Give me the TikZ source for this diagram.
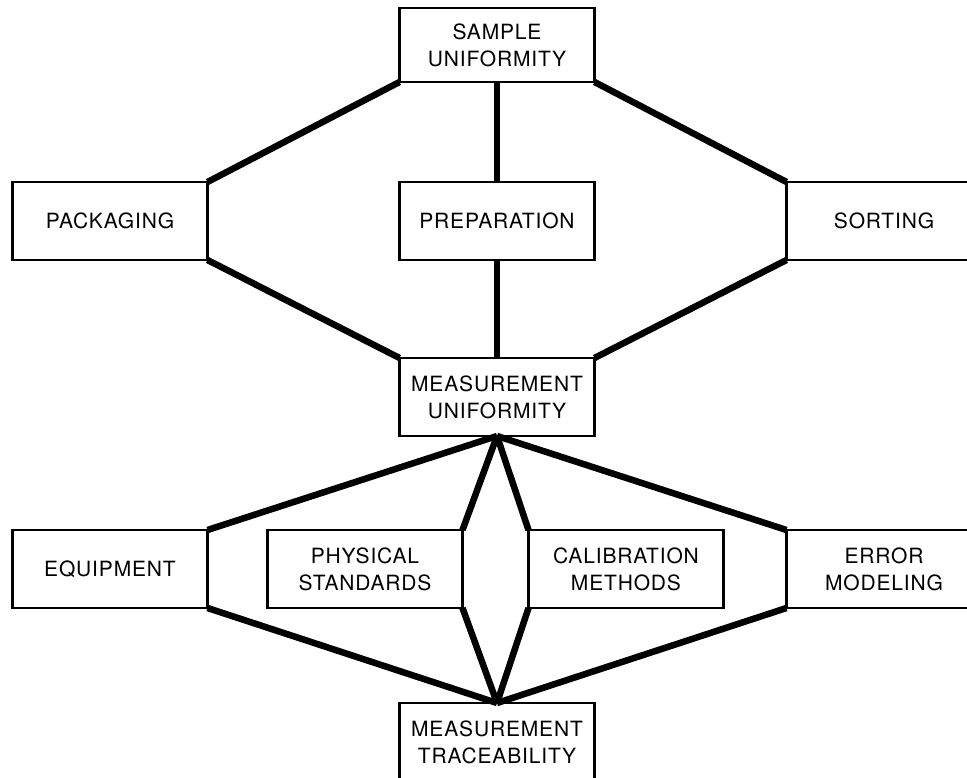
\documentclass[tikz,border=0pt]{standalone}
\usepackage{fontspec}
\setmainfont[LetterSpace=4]{TeX Gyre Heros}
\usetikzlibrary{positioning}

\begin{document}
\begin{tikzpicture}
[x=1pt,y=1pt,
 every node/.style={draw=black,line width=2.6pt,minimum width=195pt,minimum height=78pt,
   inner sep=0pt,outer sep=0pt,align=center,font=\fontsize{21}{27}\selectfont},
 top/.style={minimum height=74pt},
 link/.style={line width=6.5pt}]
\useasboundingbox (0,0) rectangle (967,-778);
\clip (0,0) rectangle (967,-778);
\node[top] (su)   at (497,-45)                               {SAMPLE\\UNIFORMITY};
\node      (prep) [on grid,below=176pt of su]                {PREPARATION};
\node      (pack) [on grid,left=387pt of prep]               {PACKAGING};
\node      (sort) [on grid,right=387pt of prep]              {SORTING};
\node      (mu)   [on grid,below=176pt of prep]              {MEASUREMENT\\UNIFORMITY};
\node      (equ)  [on grid,below  left=172pt and 387pt of mu] {EQUIPMENT};
\node      (phys) [on grid,below  left=172pt and 132pt of mu] {PHYSICAL\\STANDARDS};
\node      (cal)  [on grid,below right=172pt and 129pt of mu] {CALIBRATION\\METHODS};
\node      (err)  [on grid,below right=172pt and 387pt of mu] {ERROR\\MODELING};
\node      (mt)   [on grid,below=345pt of mu]                {MEASUREMENT\\TRACEABILITY};
\path[link] (su.south west)   edge (pack.north east);
\path[link] (su.south)        edge (prep.north);
\path[link] (su.south east)   edge (sort.north west);
\path[link] (pack.south east) edge (mu.north west);
\path[link] (prep.south)      edge (mu.north);
\path[link] (sort.south west) edge (mu.north east);
\path[link] (mu.south)        edge (equ.north east);
\path[link] (mu.south)        edge (phys.north east);
\path[link] (mu.south)        edge (cal.north west);
\path[link] (mu.south)        edge (err.north west);
\path[link] (equ.south east)  edge (mt.north);
\path[link] (phys.south east) edge (mt.north);
\path[link] (cal.south west)  edge (mt.north);
\path[link] (err.south west)  edge (mt.north);
\end{tikzpicture}
\end{document}
